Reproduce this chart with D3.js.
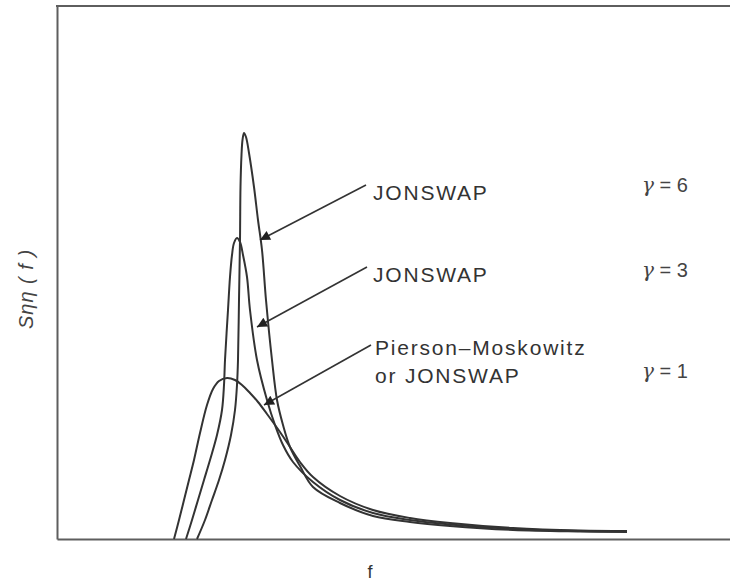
<!DOCTYPE html>
<html>
<head>
<meta charset="utf-8">
<script src="https://cdn.jsdelivr.net/npm/d3@7"></script>
<style>
  body { margin: 0; background: #fff; }
  svg { display: block; }
</style>
</head>
<body>
<div id="chart"></div>
<script>
// spectra: frequency (arbitrary units) and S(f)
const pmF = [1.17, 1.22, 1.27, 1.32, 1.37, 1.43, 1.50, 1.56, 1.62, 1.70, 1.78, 1.85, 1.93, 2.01, 2.10, 2.23, 2.33, 2.43, 2.56, 2.83, 3.16, 3.53, 3.93, 4.56, 5.23, 5.70]
const pmS = [0, 0.19, 0.39, 0.59, 0.79, 1.06, 1.34, 1.50, 1.58, 1.61, 1.59, 1.54, 1.46, 1.37, 1.25, 1.07, 0.92, 0.77, 0.62, 0.43, 0.29, 0.21, 0.16, 0.11, 0.085, 0.08]

const j3F = [1.29, 1.35, 1.41, 1.47, 1.53, 1.60, 1.65, 1.67, 1.68, 1.71, 1.73, 1.75, 1.77, 1.80, 1.83, 1.86, 1.90, 1.93, 2.00, 2.10, 2.18, 2.26, 2.36, 2.56, 2.83, 3.16, 3.53, 3.93, 4.56, 5.23, 5.70]
const j3S = [0, 0.19, 0.39, 0.59, 0.79, 1.04, 1.29, 1.54, 1.79, 2.29, 2.62, 2.84, 2.96, 3.01, 2.97, 2.84, 2.62, 2.29, 1.79, 1.39, 1.14, 0.94, 0.77, 0.57, 0.39, 0.26, 0.19, 0.145, 0.10, 0.08, 0.075]

const j6F = [1.40, 1.48, 1.55, 1.62, 1.68, 1.74, 1.78, 1.80, 1.81, 1.82, 1.83, 1.835, 1.845, 1.855, 1.87, 1.89, 1.92, 1.97, 2.01, 2.05, 2.09, 2.15, 2.20, 2.26, 2.33, 2.43, 2.56, 2.83, 3.16, 3.53, 3.93, 4.56, 5.23, 5.70]
const j6S = [0, 0.19, 0.39, 0.59, 0.79, 1.04, 1.29, 1.54, 1.79, 2.39, 2.99, 3.52, 3.84, 3.99, 4.06, 4.02, 3.86, 3.52, 3.19, 2.89, 2.39, 1.79, 1.39, 1.14, 0.92, 0.73, 0.52, 0.36, 0.23, 0.17, 0.13, 0.09, 0.075, 0.07]

const labelLines = [['JONSWAP'], ['JONSWAP'], ['Pierson\u2013Moskowitz', 'or JONSWAP']]
const gammaLabels = ['\u03b3 = 6', '\u03b3 = 3', '\u03b3 = 1']
// annotation anchors in data units: label start, arrow tail, arrow tip
const labelAt = [[3.16, 3.39], [3.16, 2.57], [3.18, 1.84]]
const arrowFrom = [[3.09, 3.54], [3.10, 2.72], [3.14, 1.94]]
const arrowTo = [[2.03, 2.99], [2.00, 2.12], [2.07, 1.34]]
const gammaAt = [[5.85, 3.47], [5.85, 2.62], [5.85, 1.61]]

const W = 730, H = 583
const margin = { top: 6, right: 0, bottom: 44, left: 57 }

const x = d3.scaleLinear().domain([0, 6.73]).range([margin.left, W - margin.right])
const y = d3.scaleLinear().domain([0, 5.33]).range([H - margin.bottom, margin.top])

const svg = d3.select('#chart').append('svg')
  .attr('width', W)
  .attr('height', H)

const frameColor = '#5e5e5e'
const ink = '#333'

// frame: bottom + left axes without ticks, plus top rule
svg.append('g')
  .attr('transform', `translate(0,${y(0)})`)
  .call(d3.axisBottom(x).ticks(0).tickSizeOuter(0))
  .call(g => g.select('.domain').attr('stroke', frameColor).attr('stroke-width', 2))

svg.append('g')
  .attr('transform', `translate(${x(0)},0)`)
  .call(d3.axisLeft(y).ticks(0).tickSizeOuter(0))
  .call(g => g.select('.domain').attr('stroke', frameColor).attr('stroke-width', 2))

svg.append('line')
  .attr('x1', x(0) - 1).attr('x2', x(6.73))
  .attr('y1', y(5.33)).attr('y2', y(5.33))
  .attr('stroke', frameColor)
  .attr('stroke-width', 2)

const line = d3.line()
  .x(d => x(d[0]))
  .y(d => y(d[1]))
  .curve(d3.curveCatmullRom.alpha(0.5))

const series = [
  d3.zip(pmF, pmS),
  d3.zip(j3F, j3S),
  d3.zip(j6F, j6S),
]

svg.append('g').selectAll('path')
  .data(series)
  .enter()
  .append('path')
  .attr('d', line)
  .attr('fill', 'none')
  .attr('stroke', ink)
  .attr('stroke-width', 2)
  .attr('stroke-linejoin', 'round')

svg.append('defs').append('marker')
  .attr('id', 'arrow')
  .attr('viewBox', '0 -5 10 10')
  .attr('refX', 10)
  .attr('refY', 0)
  .attr('markerWidth', 15)
  .attr('markerHeight', 10)
  .attr('markerUnits', 'userSpaceOnUse')
  .attr('orient', 'auto')
  .append('path')
  .attr('d', 'M0,-5L10,0L0,5Z')
  .attr('fill', '#222')

svg.append('g').selectAll('line')
  .data(arrowFrom)
  .enter()
  .append('line')
  .attr('x1', d => x(d[0]))
  .attr('y1', d => y(d[1]))
  .attr('x2', (d, i) => x(arrowTo[i][0]))
  .attr('y2', (d, i) => y(arrowTo[i][1]))
  .attr('stroke', ink)
  .attr('stroke-width', 1.6)
  .attr('marker-end', 'url(#arrow)')

const labels = svg.append('g')
  .attr('font-family', '"Liberation Sans", Arial, Helvetica, sans-serif')
  .attr('font-size', 21)
  .attr('letter-spacing', 1.8)
  .attr('fill', ink)

labelLines.forEach((lines, i) => {
  const t = labels.append('text')
    .attr('x', x(labelAt[i][0]))
    .attr('y', y(labelAt[i][1]))
  lines.forEach((s, j) => {
    t.append('tspan')
      .attr('x', x(labelAt[i][0]))
      .attr('dy', j === 0 ? 0 : 28)
      .text(s)
  })
})

const gl = svg.append('g')
  .attr('font-family', '"Liberation Sans", Arial, sans-serif')
  .attr('font-size', 20)
  .attr('fill', '#444')

gammaLabels.forEach((s, i) => {
  const t = gl.append('text')
    .attr('x', x(gammaAt[i][0]))
    .attr('y', y(gammaAt[i][1]))
  t.append('tspan')
    .attr('font-family', '"DejaVu Serif", "Liberation Serif", serif')
    .attr('font-style', 'italic')
    .text(s.slice(0, 1))
  t.append('tspan').text(s.slice(1))
})

// axis titles
svg.append('text')
  .attr('x', x(3.13))
  .attr('y', H - 5)
  .attr('text-anchor', 'middle')
  .attr('font-family', '"Liberation Sans", Arial, sans-serif')
  .attr('font-size', 18)
  .attr('fill', ink)
  .text('f')

svg.append('text')
  .attr('transform', `translate(33,${y(2.5)}) rotate(-90)`)
  .attr('text-anchor', 'middle')
  .attr('font-family', '"Liberation Sans", Arial, sans-serif')
  .attr('font-style', 'italic')
  .attr('font-size', 20)
  .attr('letter-spacing', 1)
  .attr('fill', '#444')
  .text('S\u03b7\u03b7 ( f )')
</script>
</body>
</html>
